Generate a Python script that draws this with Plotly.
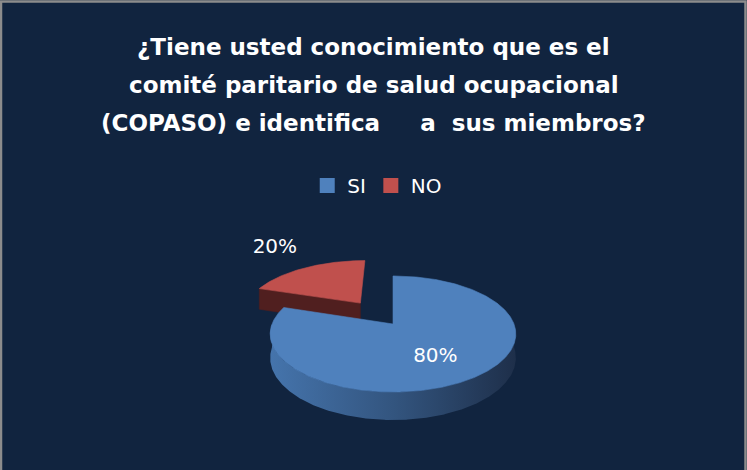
import numpy as np
import plotly.graph_objects as go

# ---------------- data ----------------
categories = ["SI", "NO"]
values = [80, 20]
label_texts = ["80%", "20%"]
title_lines = [
    "¿Tiene usted conocimiento que es el",
    "comité paritario de salud ocupacional",
    "(COPASO) e identifica&nbsp;&nbsp;&nbsp;&nbsp;&nbsp;a&nbsp;&nbsp;sus miembros?",
]

# ---------------- style ----------------
BG = "#11243F"
top_colors = ["#4F81BD", "#C0504D"]
side_scales = [
    [[0, "#4574AC"], [0.5, "#33557F"], [1, "#1E2F4A"]],
    [[0, "#9A3F3D"], [0.5, "#7A3230"], [1, "#4A1E1E"]],
]
radial_colors = ["#2E4B70", "#501F1F"]
explode = [0.0, 0.49]
label_r = [0.55, 1.67]
label_h = [0.25, 0.0]
FONT = "DejaVu Sans"

W, H = 747, 470
CX, CY = 393.0, 324.0
RX, RY = 121.0, 56.3
K = 0.172
DZ = 28 * (1 - K)


def proj(c, s, h=0.0):
    c = np.asarray(c, dtype=float)
    s = np.asarray(s, dtype=float)
    d = 1 + K * s
    return CX + RX * c / d, CY + (-RY * s + h * DZ) / d


fig = go.Figure()
total = float(sum(values))
slices = []
cum = 0.0
for i, v in enumerate(values):
    a0 = 90 - 360 * cum / total
    a1 = a0 - 360 * v / total
    cum += v
    mid = np.radians((a0 + a1) / 2)
    ox, oy = explode[i] * np.cos(mid), explode[i] * np.sin(mid)
    slices.append(dict(i=i, a0=a0, a1=a1, mid=mid, ox=ox, oy=oy))

# paint back-to-front
order = sorted(slices, key=lambda d: -np.sin(d["mid"]))

for sl in order:
    i = sl["i"]
    a0, a1, ox, oy = sl["a0"], sl["a1"], sl["ox"], sl["oy"]
    n = max(int(abs(a0 - a1) * 2), 20)
    ang = np.radians(np.linspace(a0, a1, n))
    # radial faces
    for edge, normal in ((a0, a0 + 90), (a1, a1 - 90)):
        if np.sin(np.radians(normal)) < -1e-6:
            er = np.radians(edge)
            cs = [ox, ox + np.cos(er), ox + np.cos(er), ox]
            ss = [oy, oy + np.sin(er), oy + np.sin(er), oy]
            hs = [0, 0, 1, 1]
            xs, ys = zip(*[proj(c, s, h) for c, s, h in zip(cs, ss, hs)])
            fig.add_trace(go.Scatter(x=list(xs) + [xs[0]], y=list(ys) + [ys[0]],
                                     fill="toself", fillcolor=radial_colors[i],
                                     mode="lines", line=dict(width=0.5, color=radial_colors[i]),
                                     hoverinfo="skip", showlegend=False))
    # outer side (front part only)
    front = np.sin(ang) < 0
    runs = []
    cur = []
    for k, f in enumerate(front):
        if f:
            cur.append(ang[k])
        elif cur:
            runs.append(cur)
            cur = []
    if cur:
        runs.append(cur)
    for run in runs:
        run = np.array(run)
        c = ox + np.cos(run)
        s = oy + np.sin(run)
        xt, yt = proj(c, s, 0)
        xb, yb = proj(c[::-1], s[::-1], 1)
        xs = np.concatenate([xt, xb, xt[:1]])
        ys = np.concatenate([yt, yb, yt[:1]])
        fig.add_trace(go.Scatter(x=xs, y=ys, fill="toself",
                                 fillgradient=dict(type="horizontal", colorscale=side_scales[i]),
                                 mode="lines", line=dict(width=0),
                                 hoverinfo="skip", showlegend=False))
    # top face
    c = np.concatenate([[ox], ox + np.cos(ang), [ox]])
    s = np.concatenate([[oy], oy + np.sin(ang), [oy]])
    xs, ys = proj(c, s, 0)
    fig.add_trace(go.Scatter(x=xs, y=ys, fill="toself", fillcolor=top_colors[i],
                             mode="lines", line=dict(width=0.6, color=top_colors[i]),
                             hoverinfo="skip", showlegend=False))

# data labels
for sl in slices:
    i = sl["i"]
    r = label_r[i]
    lx, ly = proj(sl["ox"] + r * np.cos(sl["mid"]), sl["oy"] + r * np.sin(sl["mid"]), label_h[i])
    fig.add_trace(go.Scatter(x=[float(lx)], y=[float(ly)], mode="text", text=[label_texts[i]],
                             textposition="middle center",
                             textfont=dict(family=FONT, size=20, color="white"),
                             hoverinfo="skip", showlegend=False))

# legend entries
for i, cat in enumerate(categories):
    fig.add_trace(go.Scatter(x=[None], y=[None], mode="markers", name=cat,
                             marker=dict(symbol="square", size=15, color=top_colors[i])))

# title lines
for k, line in enumerate(title_lines):
    fig.add_annotation(x=W / 2, y=47 + 38 * k, xref="x", yref="y", text=line,
                       showarrow=False, xanchor="center", yanchor="middle",
                       font=dict(family=FONT, size=23, color="white", weight="bold"))

fig.add_shape(type="rect", xref="x", yref="y", x0=1, x1=745.5, y0=1.5, y1=H + 10,
              line=dict(color="#8C8C8C", width=2.5), layer="above")

fig.update_layout(
    width=W, height=H, autosize=False,
    margin=dict(l=0, r=0, t=0, b=0),
    paper_bgcolor=BG, plot_bgcolor=BG,
    xaxis=dict(range=[0, W], visible=False, fixedrange=True),
    yaxis=dict(range=[H, 0], visible=False, fixedrange=True),
    showlegend=True,
    legend=dict(orientation="h", x=0.505, xanchor="center", y=1 - 185.5 / H, yanchor="middle",
                font=dict(family=FONT, size=20, color="white"), bgcolor="rgba(0,0,0,0)",
                itemclick=False, itemdoubleclick=False),
)

fig.write_html(
    "out.html",
    config={"displayModeBar": False, "staticPlot": True},
    post_script="document.body.style.margin='0';document.body.style.overflow='hidden';",
)
